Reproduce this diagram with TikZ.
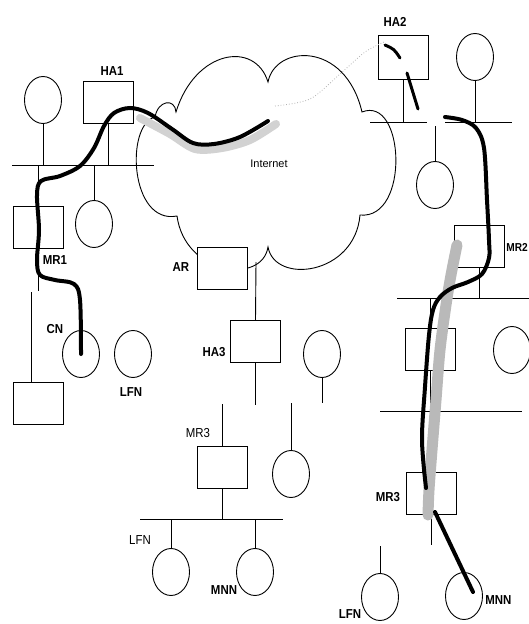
\documentclass[tikz,border=0pt]{standalone}
\usepackage{fontspec}
\setmainfont{Liberation Sans}
\newfontfamily\labfont[FakeStretch=0.88]{Liberation Sans}
\usetikzlibrary{shapes.geometric}
\begin{document}
\begin{tikzpicture}[x=1pt,y=-1pt,
  line width=0.9pt,
  box/.style={draw, fill=white, rectangle, minimum width=50pt, minimum height=42pt, inner sep=0pt},
  host/.style={draw, fill=white, ellipse, minimum width=37pt, minimum height=47pt, inner sep=0pt},
  lbl/.style={font=\labfont\bfseries\fontsize{13}{13}\selectfont, inner sep=0pt},
  lblr/.style={font=\labfont\fontsize{13}{13}\selectfont, inner sep=0pt},
  tunnel/.style={line width=4pt, line cap=round, black},
  haze/.style={line width=11pt, gray!55, line cap=round},
]
\useasboundingbox (0,0) rectangle (529,624);
% cloud
\draw[fill=white] (176,112) .. controls (195,50) and (255,40) .. (268,82)
  .. controls (275,45) and (345,40) .. (362,112)
  .. controls (405,95) and (410,220) .. (360,215)
  .. controls (355,275) and (275,285) .. (268,247)
  .. controls (262,285) and (185,275) .. (177,216)
  .. controls (130,225) and (125,125) .. (155,117)
  .. controls (158,100) and (175,98) .. (176,112) -- cycle;
\node[font=\fontsize{11}{11}\selectfont, inner sep=0pt] (inet) at (269,164) {Internet};
\coordinate (cl) at (256,262);

% buses
\coordinate (b1a) at (12,165);  \coordinate (b1b) at (154,165);
\coordinate (b2a) at (370,122); \coordinate (b2b) at (427,122);
\coordinate (b3a) at (445,122); \coordinate (b3b) at (512,122);
\coordinate (b4a) at (397,298); \coordinate (b4b) at (535,298);
\coordinate (b5a) at (380,411.5); \coordinate (b5b) at (522,411.5);
\coordinate (b6a) at (140,519); \coordinate (b6b) at (283,519);
\draw (b1a) -- (b1b);
\draw (b2a) -- (b2b);
\draw (b3a) -- (b3b);
\draw (b4a) -- (b4b);
\draw (b5a) -- (b5b);
\draw (b6a) -- (b6b);

% nodes
\node[box] (HA1) at (108,102) {};
\node[host] (h1) at (43,100) {};
\node[box] (MR1) at (38,227.5) {};
\node[host] (h2) at (94,224) {};
\node[box] (B0) at (38.5,403) {};
\node[host] (CN) at (81,354) {};
\node[host] (LFN1) at (133,354) {};
\node[box] (AR) at (222,268.5) {};
\node[box] (HA3) at (255.5,341.5) {};
\node[host] (h3) at (322,354) {};
\node[host] (h4) at (291,474) {};
\node[box] (MR3a) at (222.5,467) {};
\node[host] (LFN2) at (171,572) {};
\node[host] (MNN1) at (255,572) {};
\node[box, minimum height=44pt] (HA2) at (403,57) {};
\node[host] (h5) at (475,57) {};
\node[host] (h6) at (435,185) {};
\node[box] (MR2) at (479.5,246) {};
\node[box] (B1) at (430,349) {};
\node[host] (h7) at (512,350) {};
\node[box] (MR3b) at (431,493) {};
\node[host] (LFN3) at (380,597) {};
\node[host] (MNN2) at (464,596) {};

% stems
\draw (h1.south) -- (h1.south |- b1a);
\draw (HA1.south) -- (HA1.south |- b1a);
\draw (MR1.north) -- (MR1.north |- b1a);
\draw (h2.north) -- (h2.north |- b1a);
\draw (MR1.south) -- ++(0,42);
\draw ([xshift=-7.5pt]B0.north) -- ++(0,-90);
\draw (cl) -- (HA3.north);
\draw (HA3.south) -- ++(0,42);
\draw (h3.south) -- ++(0,25);
\draw (MR3a.north) -- ++(0,-42);
\draw (h4.north) -- ++(0,-47);
\draw (MR3a.south) -- (MR3a.south |- b6a);
\draw (LFN2.north) -- (LFN2.north |- b6a);
\draw (MNN1.north) -- (MNN1.north |- b6a);
\draw (HA2.south) -- (HA2.south |- b2a);
\draw (h5.south) -- (h5.south |- b3a);
\draw (h6.north) -- ++(0,-35);
\draw (MR2.south) -- (MR2.south |- b4a);
\draw (B1.north) -- (B1.north |- b4a);
\draw (B1.south) -- (B1.south |- b5a);
\draw (MR3b.south) -- ++(0,31);
\draw (LFN3.north) -- ++(0,-27);

% labels
\node[lbl] (tHA1) at (112,71) {HA1};
\node[lbl] (tHA2) at (395,22) {HA2};
\node[lbl] (tMR1) at (55,260) {MR1};
\node[lbl] (tAR) at (181,267) {AR};
\node[lbl] (tCN) at (55,329) {CN};
\node[lbl] (tLFN1) at (131,392) {LFN};
\node[lbl] (tHA3) at (214,352) {HA3};
\node[lblr] (tMR3a) at (198,433) {MR3};
\node[lblr] (tLFN2) at (140,540) {LFN};
\node[lbl] (tMNN1) at (224,590) {MNN};
\node[lbl, font=\labfont\bfseries\fontsize{11.5}{11.5}\selectfont, anchor=west] (tMR2) at (506,247) {MR2};
\node[lbl] (tMR3b) at (388,497) {MR3};
\node[lbl] (tLFN3) at (350,614) {LFN};
\node[lbl, anchor=west] (tMNN2) at (485,600) {MNN};

% haze and tunnels
\draw[gray!35, line width=8pt, line cap=round] plot[smooth] coordinates {(140,118) (170,134) (195,149) (222,148) (250,140) (276,124)};
\draw[gray!60, dotted, line width=0.8pt] plot[smooth] coordinates {(275,106) (310,99) (340,74) (365,52) (384,42)};
\draw[tunnel] plot[smooth, tension=0.55] coordinates {(CN.center) (80,300) (74,284) (55,280) (40,275) (37,260) (39,230) (37,195) (41,181) (60,176) (80,166) (94,148) (104,126) (114,113) (130,108) (148,113) (172,129) (193,143) (214,144) (240,137) (268,121)};
\draw[tunnel, line width=3pt] (385,45) .. controls (394,49) .. (400,58);
\draw[tunnel, line width=3pt] (407,73) -- (418,109);
\draw[haze] plot[smooth] coordinates {(457,245) (451,275) (446,305) (440,350) (436,400) (432,450) (429,490) (428,515)};
\draw[tunnel] plot[smooth, tension=0.55] coordinates {(445,117) (462,120) (476,128) (484,148) (487,200) (489,240) (489,258) (482,274) (468,282) (452,288) (440,297) (433,310) (429,335) (425,387) (422,440) (426,488)};
\coordinate (mnnend) at (473,592);
\coordinate (mr3end) at (435,512);
\draw[tunnel] (mr3end) -- (mnnend);
\end{tikzpicture}
\end{document}
